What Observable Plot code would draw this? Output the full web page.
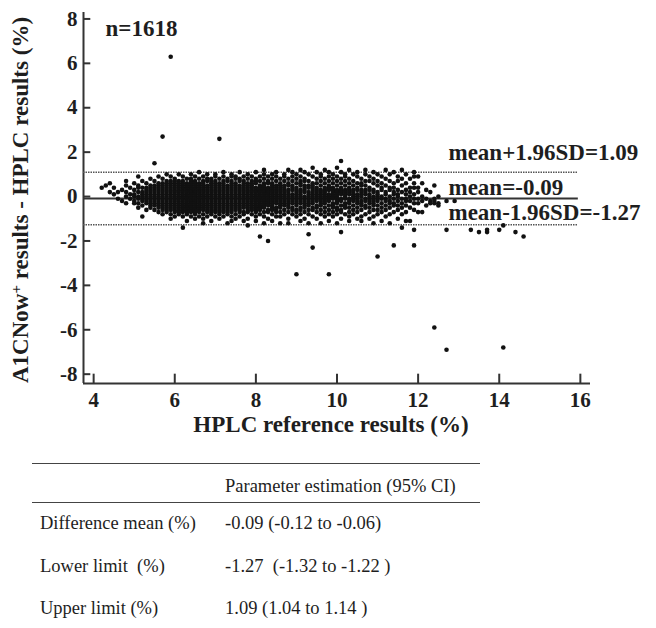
<!DOCTYPE html>
<html><head><meta charset="utf-8">
<script src="https://cdn.jsdelivr.net/npm/d3@7"></script>
<script src="https://cdn.jsdelivr.net/npm/@observablehq/plot@0.6"></script>
<style>
body{margin:0;background:#fff;}
#wrap{position:relative;width:656px;height:628px;font-family:"Liberation Serif",serif;color:#1e1e1e;overflow:hidden;}
.rule{position:absolute;left:32px;width:448px;height:0;border-top:1.5px solid #444;}
.cell{position:absolute;font-size:18.5px;white-space:pre;line-height:1;}
</style></head><body><div id="wrap"></div>
<script>
// HPLC reference value columns (%), with A1CNow+ - HPLC differences in tenths of a percent
const hplcColumns = [4.2,4.3,4.4,4.5,4.6,4.7,4.8,4.9,5.0,5.1,5.2,5.3,5.4,5.5,5.6,5.7,5.8,5.9,6.0,6.1,6.2,6.3,6.4,6.5,6.6,6.7,6.8,6.9,7.0,7.1,7.2,7.3,7.4,7.5,7.6,7.7,7.8,7.9,8.0,8.1,8.2,8.3,8.4,8.5,8.6,8.7,8.8,8.9,9.0,9.1,9.2,9.3,9.4,9.5,9.6,9.7,9.8,9.9,10.0,10.1,10.2,10.3,10.4,10.5,10.6,10.7,10.8,10.9,11.0,11.1,11.2,11.3,11.4,11.5,11.6,11.7,11.8,11.9,12.0,12.1,12.2,12.3,12.4,12.5,12.7,12.9,13.3,13.5,13.7,14.0,14.1,14.4,14.6];
const diffTenths = [
[4],[5],[6,2],[4,1],[-1,2],[3,-2],[7,5,2,0,-3],[4,1,-1],[6,3,1,0,-2,-3],[9,5,4,2,0,-1,-3,-5],
[7,4,2,1,0,-1,-2,-4,-9],
[6,4,3,2,1,0,-1,-2,-3,-6],
[8,5,4,3,2,1,0,-1,-2,-3,-4,-5],
[15,7,5,4,3,2,1,0,-1,-2,-3,-4,-6],
[9,6,5,4,3,2,1,0,-1,-2,-3,-4,-5,-7],
[27,8,6,5,4,3,2,1,0,-1,-2,-3,-4,-5,-6,-8],
[10,7,6,5,4,3,2,1,0,-1,-2,-3,-4,-5,-6,-7],
[63,9,7,6,5,4,3,2,1,0,-1,-2,-3,-4,-5,-6,-8,-10],
[8,7,6,5,4,3,2,1,0,-1,-2,-3,-4,-5,-6,-7,-9],
[10,7,6,5,4,3,2,1,0,-1,-2,-3,-4,-5,-6,-7,-8],
[9,7,6,5,4,3,2,1,0,-1,-2,-3,-4,-5,-6,-7,-9,-14],
[8,6,5,4,3,2,1,0,-1,-2,-3,-4,-5,-6,-7,-8,-11],
[10,8,7,6,5,4,3,2,1,0,-1,-2,-3,-4,-5,-6,-7,-9],
[9,7,6,5,4,3,2,1,0,-1,-2,-3,-4,-5,-6,-7,-8,-10],
[11,8,6,5,4,3,2,1,0,-1,-2,-3,-4,-5,-6,-7,-9],
[9,7,6,5,4,3,2,1,0,-1,-2,-3,-4,-5,-6,-8,-10,-12],
[10,8,7,5,4,3,2,1,0,-1,-2,-3,-4,-5,-6,-7,-9],
[8,7,6,5,4,3,2,1,0,-1,-2,-3,-4,-5,-6,-7,-8,-11],
[10,9,7,6,5,4,3,2,1,0,-1,-2,-3,-4,-5,-6,-7,-9],
[26,8,6,5,4,3,2,1,0,-1,-2,-3,-4,-5,-6,-7,-8,-10],
[11,9,7,6,5,4,3,2,1,0,-1,-2,-3,-4,-5,-6,-7,-9],
[8,7,5,4,3,2,1,0,-1,-2,-3,-4,-5,-6,-7,-8,-12],
[10,9,7,6,5,4,3,2,1,0,-1,-2,-3,-4,-5,-6,-7,-9,-11],
[9,8,6,5,4,3,2,1,0,-1,-2,-3,-4,-5,-6,-8,-10],
[11,8,7,5,4,3,2,1,0,-1,-2,-3,-4,-5,-6,-7,-9],
[9,7,6,5,4,3,2,1,0,-1,-2,-3,-4,-5,-7,-8,-11],
[10,8,6,5,4,3,2,1,0,-1,-2,-3,-4,-5,-6,-7,-10,-13],
[9,7,6,5,4,3,2,1,0,-1,-2,-3,-4,-5,-6,-8],
[11,8,7,6,4,3,2,1,0,-1,-2,-3,-4,-5,-6,-7,-9,-11],
[9,7,5,4,3,2,1,0,-1,-2,-3,-4,-5,-6,-8,-18],
[12,10,8,6,5,4,3,2,1,0,-1,-2,-3,-4,-5,-7,-9,-12],
[9,7,6,4,3,2,1,0,-1,-2,-3,-4,-6,-7,-10,-20],
[10,8,6,5,4,3,2,1,0,-1,-2,-3,-4,-5,-6,-8,-11],
[11,9,7,5,4,3,2,1,0,-1,-2,-3,-5,-6,-7,-9],
[8,6,5,4,3,2,1,0,-1,-2,-3,-4,-5,-7,-9,-12],
[10,9,7,5,4,3,2,1,0,-1,-2,-3,-4,-6,-8],
[12,8,6,5,3,2,1,0,-1,-2,-3,-4,-5,-7,-10,-12],
[11,9,7,5,4,3,1,0,-1,-2,-3,-5,-6,-8],
[10,8,6,4,3,2,1,0,-1,-2,-3,-4,-6,-7,-9,-35],
[12,9,7,6,5,3,2,1,0,-1,-2,-3,-5,-6,-8,-11],
[11,8,7,5,4,3,2,0,-1,-2,-3,-4,-5,-7,-10],
[10,7,5,4,2,1,0,-1,-2,-3,-4,-6,-8,-12,-17],
[13,9,6,5,4,3,2,1,0,-1,-2,-3,-5,-6,-9,-23],
[11,8,6,4,3,2,1,0,-1,-2,-4,-5,-7,-10],
[10,9,7,5,3,2,1,0,-1,-2,-3,-4,-6,-8,-12],
[12,8,6,4,3,2,1,0,-1,-2,-3,-5,-7,-9],
[11,9,7,5,4,3,1,0,-1,-2,-4,-6,-8,-11,-35],
[10,8,6,4,3,2,1,0,-1,-3,-4,-5,-7,-9],
[13,9,7,5,3,2,1,0,-1,-2,-3,-5,-6,-8,-12],
[16,11,8,6,4,3,2,1,-1,-2,-4,-6,-7,-10,-16],
[10,9,7,5,3,2,1,0,-1,-3,-4,-5,-8],
[12,8,6,4,3,2,1,-1,-2,-3,-5,-7,-9,-11],
[10,7,5,3,2,1,0,-1,-2,-4,-6,-8],
[11,9,6,4,3,1,0,-1,-2,-3,-5,-7,-10],
[8,6,5,3,2,1,0,-2,-3,-4,-6,-9,-11],
[12,10,7,5,3,2,1,-1,-2,-4,-5,-8],
[9,7,4,3,1,0,-1,-2,-3,-5,-7,-10],
[11,8,6,3,2,0,-1,-2,-3,-4,-6,-9,-12],
[10,7,5,2,1,0,-1,-2,-4,-6,-8,-27],
[9,6,4,3,0,-1,-3,-5,-7,-11],
[12,8,5,2,1,-1,-2,-4,-6,-9],
[10,7,4,3,0,-2,-3,-5,-8,-12],
[11,6,4,2,1,-1,-3,-4,-7,-22],
[9,7,3,1,0,-2,-4,-6,-10],
[12,8,5,2,-1,-3,-5,-8,-14],
[10,6,3,1,-1,-2,-4,-7,-11],
[8,4,2,0,-2,-5,-11],
[11,9,6,4,1,-1,-3,-6,-15,-22],
[9,4,2,-1,-3,-7],
[6,0,-2,-7],
[3,-1,-4],
[2,-2,-3],
[5,-1,-2,-3,-59],
[0,-3,-4],
[-2,-15,-69],
[-2],
[-15],
[-16],
[-15,-16],
[-15],
[-13,-68],
[-16],
[-18]
];
const meanDiff = -0.09;
const upperLimit = 1.09;
const lowerLimit = -1.27;
const limitValues = [upperLimit, meanDiff, lowerLimit];
const limitLabels = ["mean+1.96SD=1.09", "mean=-0.09", "mean-1.96SD=-1.27"];
const xTicks = [4, 6, 8, 10, 12, 14, 16];
const yTicks = [-8, -6, -4, -2, 0, 2, 4, 6, 8];
const nLabel = "n=1618";
const xTitle = "HPLC reference results (%)";
const yTitle = "A1CNow+ results - HPLC results (%)";
const tableHeader = "Parameter estimation (95% CI)";
const tableRowLabels = ["Difference mean (%)", "Lower limit  (%)", "Upper limit (%)"];
const tableRowValues = ["-0.09 (-0.12 to -0.06)", "-1.27  (-1.32 to -1.22 )", "1.09 (1.04 to 1.14 )"];

const points = [];
hplcColumns.forEach((x, i) => diffTenths[i].forEach(t => points.push({x, y: t / 10})));

const X0 = 3.75, X1 = 16.25, Y0 = -8.42, Y1 = 8.29;
const fmt = d => String(d);

const plot = Plot.plot({
  width: 656, height: 440,
  marginLeft: 83, marginRight: 66, marginTop: 12, marginBottom: 57,
  x: {domain: [X0, X1]},
  y: {domain: [Y0, Y1]},
  style: {fontFamily: "'Liberation Serif', serif", fontWeight: "bold", color: "#1e1e1e", background: "white", overflow: "visible"},
  marks: [
    Plot.axisX(xTicks, {tickSize: 0, tickPadding: 9, fontSize: 21, label: null, tickFormat: fmt}),
    Plot.axisY(yTicks, {tickSize: 0, tickPadding: 6, fontSize: 21, label: null, tickFormat: fmt}),
    Plot.ruleY(yTicks, {x1: X0, x2: X0 + 0.18, stroke: "#333", strokeWidth: 2}),
    Plot.ruleX(xTicks, {y1: Y0, y2: Y0 + 0.42, stroke: "#333", strokeWidth: 2}),
    Plot.ruleX([X0], {stroke: "#333", strokeWidth: 2}),
    Plot.ruleY([Y0], {stroke: "#333", strokeWidth: 2}),
    Plot.ruleY([upperLimit, lowerLimit], {x1: X0, x2: 15.95, stroke: "#555", strokeWidth: 1.5, strokeDasharray: "1.5,1"}),
    Plot.ruleY([meanDiff], {x1: X0, x2: 15.95, stroke: "#333", strokeWidth: 2}),
    Plot.dot(points, {x: "x", y: "y", r: 2.3, fill: "#111", stroke: null}),
    ...limitValues.map((v, i) => Plot.text([limitLabels[i]], {y: [v], text: d => d, frameAnchor: "right", textAnchor: "start", dx: -142, dy: [-20, -11, -12][i], fontSize: 23, fill: "#1e1e1e"})),
    Plot.text([nLabel], {frameAnchor: "top-left", textAnchor: "start", dx: 22, dy: 7, fontSize: 23, fill: "#1e1e1e"}),
    Plot.text([xTitle], {frameAnchor: "bottom", lineAnchor: "middle", dy: 41, dx: -6, fontSize: 23, fill: "#1e1e1e"}),
    Plot.text([yTitle], {frameAnchor: "left", textAnchor: "middle", lineAnchor: "middle", rotate: -90, dx: -63, dy: 2, fontSize: 23, fill: "#1e1e1e"})
  ]
});

// superscript "+" in the y title
d3.select(plot).selectAll("text").filter(function() { return this.textContent === yTitle; }).each(function() {
  const t = d3.select(this);
  t.text(null);
  t.append("tspan").text("A1CNow");
  t.append("tspan").attr("dy", "-0.45em").attr("font-size", "0.65em").text("+");
  t.append("tspan").attr("dy", "0.3em").text(" results - HPLC results (%)");
});

const wrap = document.getElementById("wrap");
plot.style.position = "absolute"; plot.style.left = "0"; plot.style.top = "0";
wrap.appendChild(plot);

function rule(top) { const d = document.createElement("div"); d.className = "rule"; d.style.top = top + "px"; wrap.appendChild(d); }
function cell(text, left, top) { const d = document.createElement("div"); d.className = "cell"; d.textContent = text; d.style.left = left + "px"; d.style.top = top + "px"; wrap.appendChild(d); }
rule(463);
cell(tableHeader, 225, 477);
rule(502);
tableRowLabels.forEach((t, i) => cell(t, 40, 514 + i * 42.5));
tableRowValues.forEach((t, i) => cell(t, 225, 514 + i * 42.5));
</script></body></html>
